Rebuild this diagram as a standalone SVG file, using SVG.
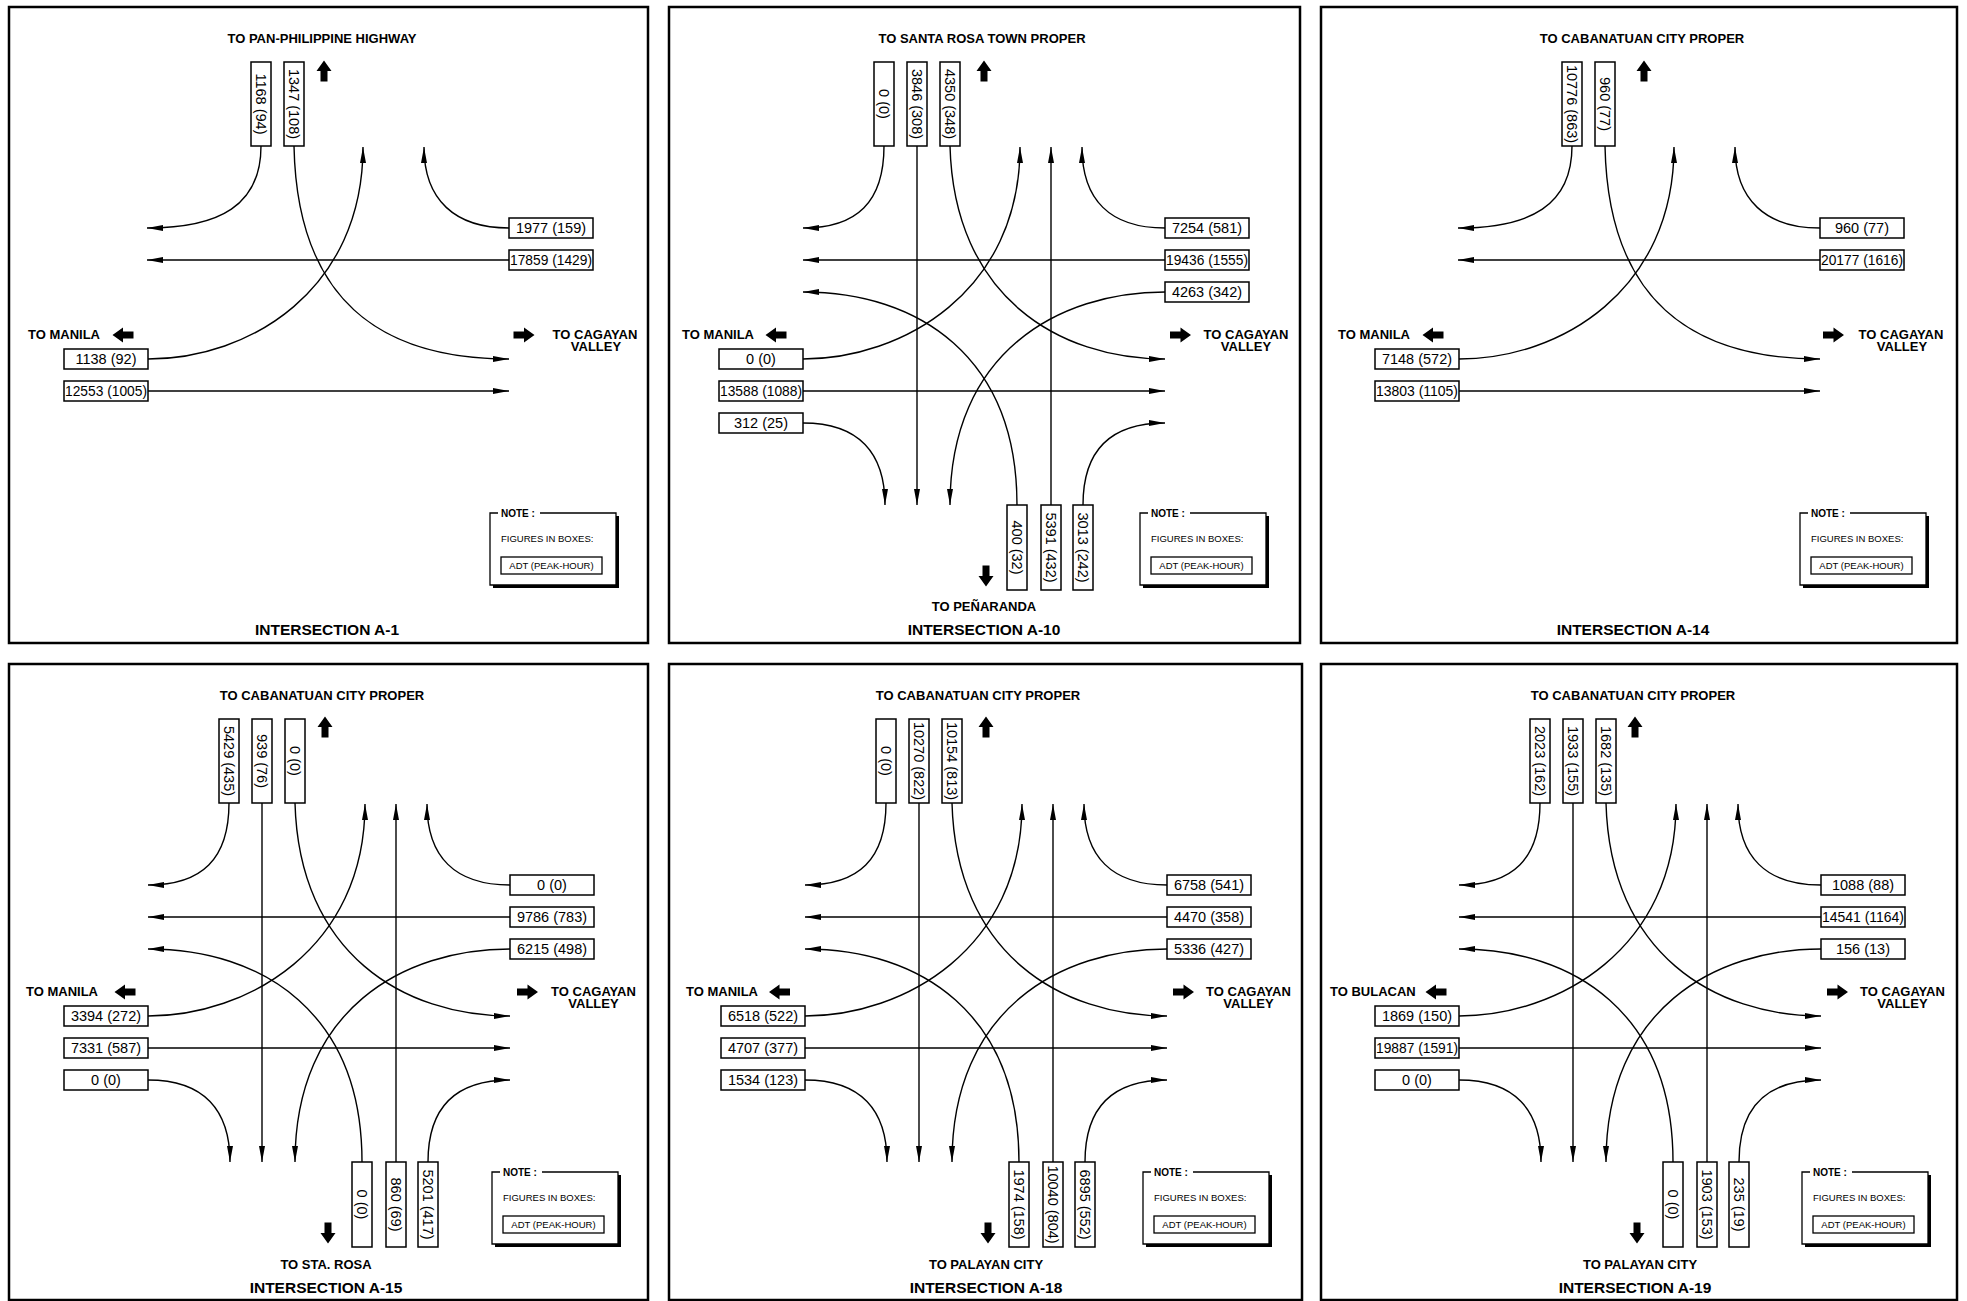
<svg xmlns="http://www.w3.org/2000/svg" xmlns:xlink="http://www.w3.org/1999/xlink" width="1967" height="1301" viewBox="0 0 1967 1301">
<style>
.panel{fill:none;stroke:#000;stroke-width:2.5}
.conn path{fill:none;stroke:#000;stroke-width:1.4;marker-end:url(#ah)}
.box rect{fill:#fff;stroke:#000;stroke-width:1.5}
.num{font-family:"Liberation Sans",Arial,sans-serif;font-size:14.5px;text-anchor:middle;fill:#000}
.lbl{font-family:"Liberation Sans",Arial,sans-serif;font-size:13px;font-weight:bold;fill:#000}
.mid{text-anchor:middle}
.ttl{font-family:"Liberation Sans",Arial,sans-serif;font-size:15.5px;font-weight:bold;text-anchor:middle;fill:#000}
.nt{font-family:"Liberation Sans",Arial,sans-serif;font-size:10px;font-weight:bold;fill:#000}
.nf{font-family:"Liberation Sans",Arial,sans-serif;font-size:9.5px;fill:#000}
.nb{fill:none;stroke:#000;stroke-width:1.3}
.shadow{fill:#000}
.blk{fill:#000}
</style>
<defs>
<marker id="ah" viewBox="0 0 16 6" refX="16" refY="3" markerWidth="16" markerHeight="6" markerUnits="userSpaceOnUse" orient="auto"><path d="M0,0 L16,3 L0,6 Z" fill="#000"/></marker>
<path id="barrow" d="M-10.5,-3.5 H0 V-7.5 L10.5,0 L0,7.5 V3.5 H-10.5 Z"/>
<g id="note">
<rect class="shadow" x="3" y="3" width="126" height="72"/>
<rect x="0" y="0" width="126" height="72" fill="#fff"/>
<path class="nb" d="M8,0 H0 V72 H126 V0 H50"/>
<text class="nt" x="11" y="4">NOTE :</text>
<text class="nf" x="11" y="29">FIGURES IN BOXES:</text>
<rect class="nb" x="11" y="44" width="101" height="17"/>
<text class="nf" x="61.5" y="56" text-anchor="middle">ADT (PEAK-HOUR)</text>
</g>
</defs>
<rect x="0" y="0" width="1967" height="1301" fill="#fff"/>

<!-- PANEL A-1 -->
<g id="a1">
<rect class="panel" x="9" y="7" width="639" height="636"/>
<g transform="translate(9,7)">
<g id="a1-connectors" class="conn">
<path d="M252,139 C252,198 211,221 138,221"/>
<path d="M285,139 C288,293 371,352 500,352"/>
<path d="M500,221 C446,221 415,193 415,140"/>
<path d="M500,253 H138"/>
<path d="M139,352 C241,352 354,283 354,140"/>
<path d="M139,384 H500"/>
</g>
<g id="a1-n1" class="box"><rect x="242" y="55" width="20" height="84"/><text class="num" transform="translate(252,97) rotate(90)" dy="0.35em">1168 (94)</text></g>
<g id="a1-n2" class="box"><rect x="275" y="55" width="20" height="84"/><text class="num" transform="translate(285,97) rotate(90)" dy="0.35em">1347 (108)</text></g>
<g id="a1-e1" class="box"><rect x="500" y="211" width="84" height="20"/><text class="num" x="542" y="226">1977 (159)</text></g>
<g id="a1-e2" class="box"><rect x="500" y="243" width="84" height="20"/><text class="num" x="542" y="258" textLength="82" lengthAdjust="spacingAndGlyphs">17859 (1429)</text></g>
<g id="a1-w1" class="box"><rect x="55" y="342" width="84" height="20"/><text class="num" x="97" y="357">1138 (92)</text></g>
<g id="a1-w2" class="box"><rect x="55" y="374" width="84" height="20"/><text class="num" x="97" y="389" textLength="82" lengthAdjust="spacingAndGlyphs">12553 (1005)</text></g>
<text class="lbl mid" x="313" y="36">TO PAN-PHILIPPINE HIGHWAY</text>
<use xlink:href="#barrow" class="blk" transform="translate(315,64) rotate(-90)"/>
<text class="lbl" x="19" y="332">TO MANILA</text>
<use xlink:href="#barrow" class="blk" transform="translate(114,328) rotate(180)"/>
<use xlink:href="#barrow" class="blk" transform="translate(515,328)"/>
<text class="lbl mid" x="586" y="332">TO CAGAYAN</text>
<text class="lbl mid" x="587" y="344">VALLEY</text>
<text class="ttl" x="318" y="628">INTERSECTION A-1</text>
<use xlink:href="#note" transform="translate(481,506)"/>
</g>
</g>

<!-- PANEL A-10 -->
<g id="a10">
<rect class="panel" x="669" y="7" width="631" height="636"/>
<g transform="translate(669,7)">
<g id="a10-connectors" class="conn">
<path d="M215,139 C215,195 188,221 134,221"/>
<path d="M248,139 V498"/>
<path d="M281,139 C285,290 390,352 496,352"/>
<path d="M496,221 C441,221 413,193 413,140"/>
<path d="M496,253 H134"/>
<path d="M496,285 C390,285 281,345 281,498"/>
<path d="M134,352 C233,352 351,285 351,140"/>
<path d="M134,384 H496"/>
<path d="M134,416 C190,416 216,446 216,498"/>
<path d="M348,498 C348,350 250,285 134,285"/>
<path d="M382,498 V140"/>
<path d="M414,498 C414,443 441,416 496,416"/>
</g>
<g id="a10-n1" class="box"><rect x="205" y="55" width="20" height="84"/><text class="num" transform="translate(215,97) rotate(90)" dy="0.35em">0 (0)</text></g>
<g id="a10-n2" class="box"><rect x="238" y="55" width="20" height="84"/><text class="num" transform="translate(248,97) rotate(90)" dy="0.35em">3846 (308)</text></g>
<g id="a10-n3" class="box"><rect x="271" y="55" width="20" height="84"/><text class="num" transform="translate(281,97) rotate(90)" dy="0.35em">4350 (348)</text></g>
<g id="a10-e1" class="box"><rect x="496" y="211" width="84" height="20"/><text class="num" x="538" y="226">7254 (581)</text></g>
<g id="a10-e2" class="box"><rect x="496" y="243" width="84" height="20"/><text class="num" x="538" y="258" textLength="82" lengthAdjust="spacingAndGlyphs">19436 (1555)</text></g>
<g id="a10-e3" class="box"><rect x="496" y="275" width="84" height="20"/><text class="num" x="538" y="290">4263 (342)</text></g>
<g id="a10-w1" class="box"><rect x="50" y="342" width="84" height="20"/><text class="num" x="92" y="357">0 (0)</text></g>
<g id="a10-w2" class="box"><rect x="50" y="374" width="84" height="20"/><text class="num" x="92" y="389" textLength="82" lengthAdjust="spacingAndGlyphs">13588 (1088)</text></g>
<g id="a10-w3" class="box"><rect x="50" y="406" width="84" height="20"/><text class="num" x="92" y="421">312 (25)</text></g>
<g id="a10-s1" class="box"><rect x="338" y="498" width="20" height="85"/><text class="num" transform="translate(348,540.5) rotate(90)" dy="0.35em">400 (32)</text></g>
<g id="a10-s2" class="box"><rect x="372" y="498" width="20" height="85"/><text class="num" transform="translate(382,540.5) rotate(90)" dy="0.35em">5391 (432)</text></g>
<g id="a10-s3" class="box"><rect x="404" y="498" width="20" height="85"/><text class="num" transform="translate(414,540.5) rotate(90)" dy="0.35em">3013 (242)</text></g>
<text class="lbl mid" x="313" y="36">TO SANTA ROSA TOWN PROPER</text>
<use xlink:href="#barrow" class="blk" transform="translate(315,64) rotate(-90)"/>
<text class="lbl" x="13" y="332">TO MANILA</text>
<use xlink:href="#barrow" class="blk" transform="translate(107,328) rotate(180)"/>
<use xlink:href="#barrow" class="blk" transform="translate(511.5,328)"/>
<text class="lbl mid" x="577" y="332">TO CAGAYAN</text>
<text class="lbl mid" x="577" y="344">VALLEY</text>
<use xlink:href="#barrow" class="blk" transform="translate(317,569) rotate(90)"/>
<text class="lbl mid" x="315" y="604">TO PEÑARANDA</text>
<text class="ttl" x="315" y="628">INTERSECTION A-10</text>
<use xlink:href="#note" transform="translate(471,506)"/>
</g>
</g>

<!-- PANEL A-14 -->
<g id="a14">
<rect class="panel" x="1321" y="7" width="636" height="636"/>
<g transform="translate(1320,7)">
<g id="a14-connectors" class="conn">
<path d="M252,139 C252,198 211,221 138,221"/>
<path d="M285,139 C288,293 371,352 500,352"/>
<path d="M500,221 C446,221 415,193 415,140"/>
<path d="M500,253 H138"/>
<path d="M139,352 C241,352 354,283 354,140"/>
<path d="M139,384 H500"/>
</g>
<g id="a14-n1" class="box"><rect x="242" y="55" width="20" height="84"/><text class="num" transform="translate(252,97) rotate(90)" dy="0.35em">10776 (863)</text></g>
<g id="a14-n2" class="box"><rect x="275" y="55" width="20" height="84"/><text class="num" transform="translate(285,97) rotate(90)" dy="0.35em">960 (77)</text></g>
<g id="a14-e1" class="box"><rect x="500" y="211" width="84" height="20"/><text class="num" x="542" y="226">960 (77)</text></g>
<g id="a14-e2" class="box"><rect x="500" y="243" width="84" height="20"/><text class="num" x="542" y="258" textLength="82" lengthAdjust="spacingAndGlyphs">20177 (1616)</text></g>
<g id="a14-w1" class="box"><rect x="55" y="342" width="84" height="20"/><text class="num" x="97" y="357">7148 (572)</text></g>
<g id="a14-w2" class="box"><rect x="55" y="374" width="84" height="20"/><text class="num" x="97" y="389" textLength="82" lengthAdjust="spacingAndGlyphs">13803 (1105)</text></g>
<text class="lbl mid" x="322" y="36">TO CABANATUAN CITY PROPER</text>
<use xlink:href="#barrow" class="blk" transform="translate(324,64) rotate(-90)"/>
<text class="lbl" x="18" y="332">TO MANILA</text>
<use xlink:href="#barrow" class="blk" transform="translate(113,328) rotate(180)"/>
<use xlink:href="#barrow" class="blk" transform="translate(513.5,328)"/>
<text class="lbl mid" x="581" y="332">TO CAGAYAN</text>
<text class="lbl mid" x="582" y="344">VALLEY</text>
<text class="ttl" x="313" y="628">INTERSECTION A-14</text>
<use xlink:href="#note" transform="translate(480,506)"/>
</g>
</g>

<!-- PANEL A-15 -->
<g id="a15">
<rect class="panel" x="9" y="664" width="639" height="636"/>
<g transform="translate(14,664)">
<g id="a15-connectors" class="conn">
<path d="M215,139 C215,195 188,221 134,221"/>
<path d="M248,139 V498"/>
<path d="M281,139 C285,290 390,352 496,352"/>
<path d="M496,221 C441,221 413,193 413,140"/>
<path d="M496,253 H134"/>
<path d="M496,285 C390,285 281,345 281,498"/>
<path d="M134,352 C233,352 351,285 351,140"/>
<path d="M134,384 H496"/>
<path d="M134,416 C190,416 216,446 216,498"/>
<path d="M348,498 C348,350 250,285 134,285"/>
<path d="M382,498 V140"/>
<path d="M414,498 C414,443 441,416 496,416"/>
</g>
<g id="a15-n1" class="box"><rect x="205" y="55" width="20" height="84"/><text class="num" transform="translate(215,97) rotate(90)" dy="0.35em">5429 (435)</text></g>
<g id="a15-n2" class="box"><rect x="238" y="55" width="20" height="84"/><text class="num" transform="translate(248,97) rotate(90)" dy="0.35em">939 (76)</text></g>
<g id="a15-n3" class="box"><rect x="271" y="55" width="20" height="84"/><text class="num" transform="translate(281,97) rotate(90)" dy="0.35em">0 (0)</text></g>
<g id="a15-e1" class="box"><rect x="496" y="211" width="84" height="20"/><text class="num" x="538" y="226">0 (0)</text></g>
<g id="a15-e2" class="box"><rect x="496" y="243" width="84" height="20"/><text class="num" x="538" y="258">9786 (783)</text></g>
<g id="a15-e3" class="box"><rect x="496" y="275" width="84" height="20"/><text class="num" x="538" y="290">6215 (498)</text></g>
<g id="a15-w1" class="box"><rect x="50" y="342" width="84" height="20"/><text class="num" x="92" y="357">3394 (272)</text></g>
<g id="a15-w2" class="box"><rect x="50" y="374" width="84" height="20"/><text class="num" x="92" y="389">7331 (587)</text></g>
<g id="a15-w3" class="box"><rect x="50" y="406" width="84" height="20"/><text class="num" x="92" y="421">0 (0)</text></g>
<g id="a15-s1" class="box"><rect x="338" y="498" width="20" height="85"/><text class="num" transform="translate(348,540.5) rotate(90)" dy="0.35em">0 (0)</text></g>
<g id="a15-s2" class="box"><rect x="372" y="498" width="20" height="85"/><text class="num" transform="translate(382,540.5) rotate(90)" dy="0.35em">860 (69)</text></g>
<g id="a15-s3" class="box"><rect x="404" y="498" width="20" height="85"/><text class="num" transform="translate(414,540.5) rotate(90)" dy="0.35em">5201 (417)</text></g>
<text class="lbl mid" x="308" y="35.5">TO CABANATUAN CITY PROPER</text>
<use xlink:href="#barrow" class="blk" transform="translate(311,63) rotate(-90)"/>
<text class="lbl" x="12" y="332">TO MANILA</text>
<use xlink:href="#barrow" class="blk" transform="translate(111,328) rotate(180)"/>
<use xlink:href="#barrow" class="blk" transform="translate(513.5,328)"/>
<text class="lbl mid" x="579.5" y="332">TO CAGAYAN</text>
<text class="lbl mid" x="579.5" y="344">VALLEY</text>
<use xlink:href="#barrow" class="blk" transform="translate(314,569) rotate(90)"/>
<text class="lbl mid" x="312" y="605">TO STA. ROSA</text>
<text class="ttl" x="312" y="629">INTERSECTION A-15</text>
<use xlink:href="#note" transform="translate(478,508)"/>
</g>
</g>

<!-- PANEL A-18 -->
<g id="a18">
<rect class="panel" x="669" y="664" width="633" height="636"/>
<g transform="translate(671,664)">
<g id="a18-connectors" class="conn">
<path d="M215,139 C215,195 188,221 134,221"/>
<path d="M248,139 V498"/>
<path d="M281,139 C285,290 390,352 496,352"/>
<path d="M496,221 C441,221 413,193 413,140"/>
<path d="M496,253 H134"/>
<path d="M496,285 C390,285 281,345 281,498"/>
<path d="M134,352 C233,352 351,285 351,140"/>
<path d="M134,384 H496"/>
<path d="M134,416 C190,416 216,446 216,498"/>
<path d="M348,498 C348,350 250,285 134,285"/>
<path d="M382,498 V140"/>
<path d="M414,498 C414,443 441,416 496,416"/>
</g>
<g id="a18-n1" class="box"><rect x="205" y="55" width="20" height="84"/><text class="num" transform="translate(215,97) rotate(90)" dy="0.35em">0 (0)</text></g>
<g id="a18-n2" class="box"><rect x="238" y="55" width="20" height="84"/><text class="num" transform="translate(248,97) rotate(90)" dy="0.35em">10270 (822)</text></g>
<g id="a18-n3" class="box"><rect x="271" y="55" width="20" height="84"/><text class="num" transform="translate(281,97) rotate(90)" dy="0.35em">10154 (813)</text></g>
<g id="a18-e1" class="box"><rect x="496" y="211" width="84" height="20"/><text class="num" x="538" y="226">6758 (541)</text></g>
<g id="a18-e2" class="box"><rect x="496" y="243" width="84" height="20"/><text class="num" x="538" y="258">4470 (358)</text></g>
<g id="a18-e3" class="box"><rect x="496" y="275" width="84" height="20"/><text class="num" x="538" y="290">5336 (427)</text></g>
<g id="a18-w1" class="box"><rect x="50" y="342" width="84" height="20"/><text class="num" x="92" y="357">6518 (522)</text></g>
<g id="a18-w2" class="box"><rect x="50" y="374" width="84" height="20"/><text class="num" x="92" y="389">4707 (377)</text></g>
<g id="a18-w3" class="box"><rect x="50" y="406" width="84" height="20"/><text class="num" x="92" y="421">1534 (123)</text></g>
<g id="a18-s1" class="box"><rect x="338" y="498" width="20" height="85"/><text class="num" transform="translate(348,540.5) rotate(90)" dy="0.35em">1974 (158)</text></g>
<g id="a18-s2" class="box"><rect x="372" y="498" width="20" height="85"/><text class="num" transform="translate(382,540.5) rotate(90)" dy="0.35em">10040 (804)</text></g>
<g id="a18-s3" class="box"><rect x="404" y="498" width="20" height="85"/><text class="num" transform="translate(414,540.5) rotate(90)" dy="0.35em">6895 (552)</text></g>
<text class="lbl mid" x="307" y="35.5">TO CABANATUAN CITY PROPER</text>
<use xlink:href="#barrow" class="blk" transform="translate(315,63) rotate(-90)"/>
<text class="lbl" x="15" y="332">TO MANILA</text>
<use xlink:href="#barrow" class="blk" transform="translate(108.5,328) rotate(180)"/>
<use xlink:href="#barrow" class="blk" transform="translate(512.5,328)"/>
<text class="lbl mid" x="577.5" y="332">TO CAGAYAN</text>
<text class="lbl mid" x="577.5" y="344">VALLEY</text>
<use xlink:href="#barrow" class="blk" transform="translate(317,569) rotate(90)"/>
<text class="lbl mid" x="315" y="605">TO PALAYAN CITY</text>
<text class="ttl" x="315" y="629">INTERSECTION A-18</text>
<use xlink:href="#note" transform="translate(472,508)"/>
</g>
</g>

<!-- PANEL A-19 -->
<g id="a19">
<rect class="panel" x="1321" y="664" width="636" height="636"/>
<g transform="translate(1325,664)">
<g id="a19-connectors" class="conn">
<path d="M215,139 C215,195 188,221 134,221"/>
<path d="M248,139 V498"/>
<path d="M281,139 C285,290 390,352 496,352"/>
<path d="M496,221 C441,221 413,193 413,140"/>
<path d="M496,253 H134"/>
<path d="M496,285 C390,285 281,345 281,498"/>
<path d="M134,352 C233,352 351,285 351,140"/>
<path d="M134,384 H496"/>
<path d="M134,416 C190,416 216,446 216,498"/>
<path d="M348,498 C348,350 250,285 134,285"/>
<path d="M382,498 V140"/>
<path d="M414,498 C414,443 441,416 496,416"/>
</g>
<g id="a19-n1" class="box"><rect x="205" y="55" width="20" height="84"/><text class="num" transform="translate(215,97) rotate(90)" dy="0.35em">2023 (162)</text></g>
<g id="a19-n2" class="box"><rect x="238" y="55" width="20" height="84"/><text class="num" transform="translate(248,97) rotate(90)" dy="0.35em">1933 (155)</text></g>
<g id="a19-n3" class="box"><rect x="271" y="55" width="20" height="84"/><text class="num" transform="translate(281,97) rotate(90)" dy="0.35em">1682 (135)</text></g>
<g id="a19-e1" class="box"><rect x="496" y="211" width="84" height="20"/><text class="num" x="538" y="226">1088 (88)</text></g>
<g id="a19-e2" class="box"><rect x="496" y="243" width="84" height="20"/><text class="num" x="538" y="258" textLength="82" lengthAdjust="spacingAndGlyphs">14541 (1164)</text></g>
<g id="a19-e3" class="box"><rect x="496" y="275" width="84" height="20"/><text class="num" x="538" y="290">156 (13)</text></g>
<g id="a19-w1" class="box"><rect x="50" y="342" width="84" height="20"/><text class="num" x="92" y="357">1869 (150)</text></g>
<g id="a19-w2" class="box"><rect x="50" y="374" width="84" height="20"/><text class="num" x="92" y="389" textLength="82" lengthAdjust="spacingAndGlyphs">19887 (1591)</text></g>
<g id="a19-w3" class="box"><rect x="50" y="406" width="84" height="20"/><text class="num" x="92" y="421">0 (0)</text></g>
<g id="a19-s1" class="box"><rect x="338" y="498" width="20" height="85"/><text class="num" transform="translate(348,540.5) rotate(90)" dy="0.35em">0 (0)</text></g>
<g id="a19-s2" class="box"><rect x="372" y="498" width="20" height="85"/><text class="num" transform="translate(382,540.5) rotate(90)" dy="0.35em">1903 (153)</text></g>
<g id="a19-s3" class="box"><rect x="404" y="498" width="20" height="85"/><text class="num" transform="translate(414,540.5) rotate(90)" dy="0.35em">235 (19)</text></g>
<text class="lbl mid" x="308" y="35.5">TO CABANATUAN CITY PROPER</text>
<use xlink:href="#barrow" class="blk" transform="translate(310,63) rotate(-90)"/>
<text class="lbl" x="5" y="332">TO BULACAN</text>
<use xlink:href="#barrow" class="blk" transform="translate(111,328) rotate(180)"/>
<use xlink:href="#barrow" class="blk" transform="translate(512.5,328)"/>
<text class="lbl mid" x="577.5" y="332">TO CAGAYAN</text>
<text class="lbl mid" x="577.5" y="344">VALLEY</text>
<use xlink:href="#barrow" class="blk" transform="translate(312,569) rotate(90)"/>
<text class="lbl mid" x="315" y="605">TO PALAYAN CITY</text>
<text class="ttl" x="310" y="629">INTERSECTION A-19</text>
<use xlink:href="#note" transform="translate(477,508)"/>
</g>
</g>
</svg>
